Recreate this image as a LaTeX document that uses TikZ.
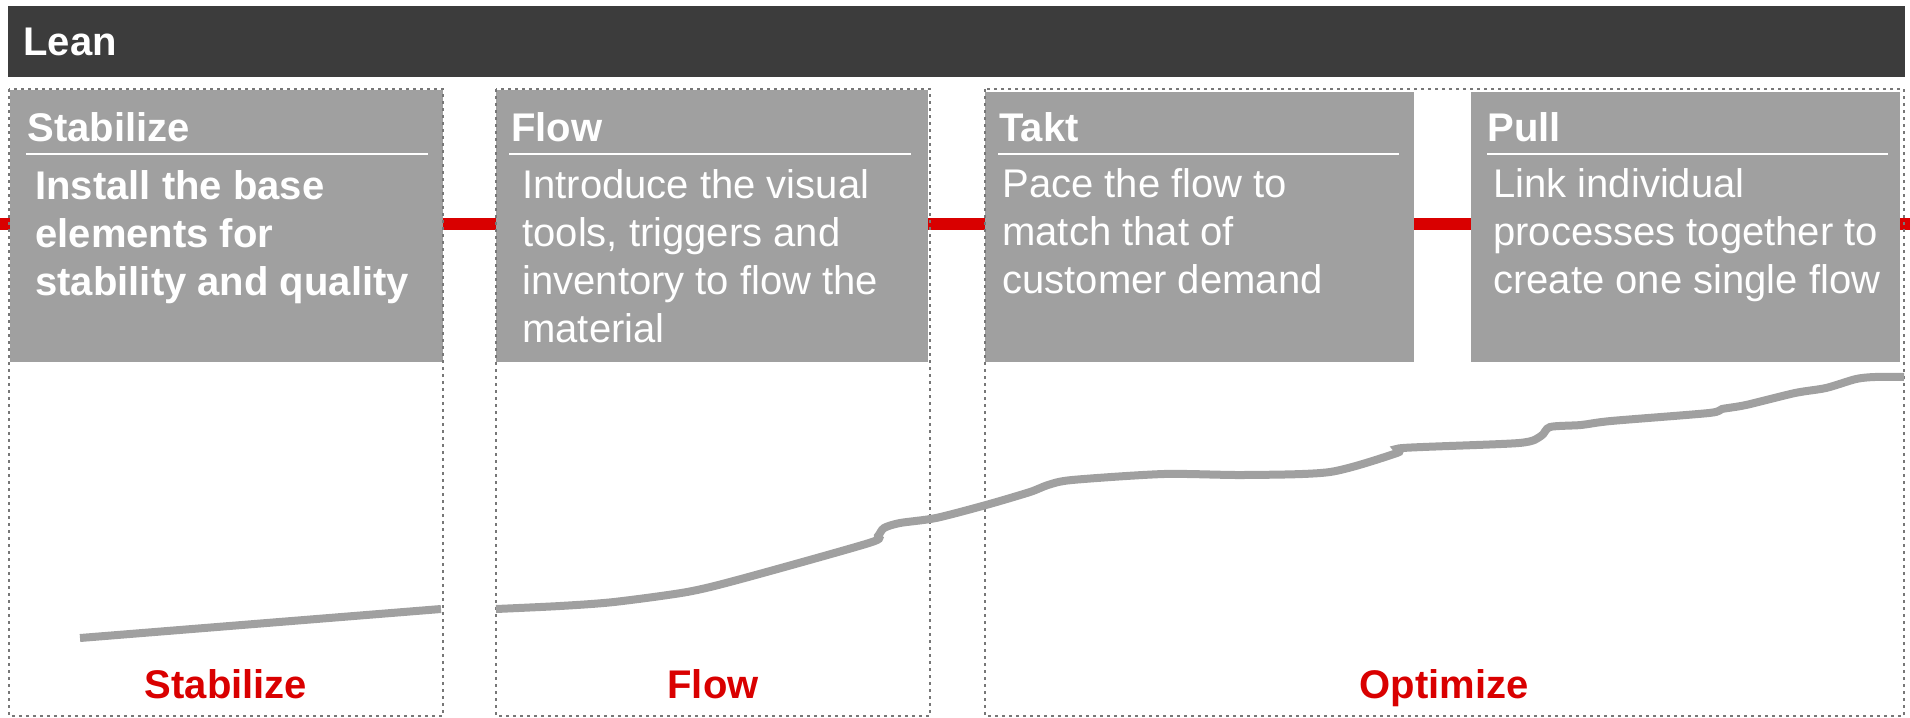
\documentclass[tikz,border=0pt]{standalone}
\usepackage{fontspec}
\setmainfont{Liberation Sans}
\definecolor{barcol}{HTML}{3C3C3C}
\definecolor{panelgray}{HTML}{A0A0A0}
\definecolor{framegray}{HTML}{777777}
\definecolor{leanred}{HTML}{D90000}
\tikzset{
  txt/.style={inner sep=0pt, font=\fontsize{20}{24}\selectfont},
  hdr/.style={txt, anchor=base west, text=white, font=\fontsize{20}{24}\selectfont\bfseries},
  bodyb/.style={txt, anchor=base west, text=white, font=\fontsize{20}{24}\selectfont\bfseries},
  bodyr/.style={txt, anchor=base west, text=white},
  phase/.style={txt, anchor=base, text=leanred, font=\fontsize{20}{24}\selectfont\bfseries},
  panel/.style={fill=panelgray},
  frame/.style={draw=framegray, line width=1.4pt, dash pattern=on 1.4pt off 2.1pt},
  rulew/.style={draw=white, line width=1pt},
  trend/.style={draw=panelgray, line width=4pt},
}
\begin{document}
\begin{tikzpicture}[x=0.5pt, y=-0.5pt]
\useasboundingbox (0,0) rectangle (1910,717);

% title bar
\fill[barcol] (8,6) rectangle (1905,77);
\node[hdr] (lean) at (23,56) {Lean};

% red timeline behind the panels
\fill[leanred] (0,218) rectangle (1910,230);

% grey step panels
\fill[panel] (10,90) rectangle (443,362);
\fill[panel] (496,90) rectangle (928,362);
\fill[panel] (985,92) rectangle (1414,362);
\fill[panel] (1471,92) rectangle (1900,362);

% dotted phase frames
\draw[frame] (9,89) rectangle (443,716);
\draw[frame] (496,89) rectangle (930,716);
\draw[frame] (985,89) rectangle (1904,716);

% headers and rules
\node[hdr] (hStab) at (27,141) {Stabilize};
\draw[rulew] (26,154) -- (428,154);
\node[hdr] (hFlow) at (511,141) {Flow};
\draw[rulew] (509,154) -- (911,154);
\node[hdr] (hTakt) at (999,141) {Takt};
\draw[rulew] (998,154) -- (1399,154);
\node[hdr] (hPull) at (1487,141) {Pull};
\draw[rulew] (1487,154) -- (1888,154);

% step descriptions
\node[bodyb] (s1) at (35,199) {Install the base};
\node[bodyb] (s2) at (35,247) {elements for};
\node[bodyb] (s3) at (35,295) {stability and quality};

\node[bodyr] (f1) at (522,198) {Introduce the visual};
\node[bodyr] (f2) at (522,246) {tools, triggers and};
\node[bodyr] (f3) at (522,294) {inventory to flow the};
\node[bodyr] (f4) at (522,342) {material};

\node[bodyr] (t1) at (1002,197) {Pace the flow to};
\node[bodyr] (t2) at (1002,245) {match that of};
\node[bodyr] (t3) at (1002,293) {customer demand};

\node[bodyr] (p1) at (1493,197) {Link individual};
\node[bodyr] (p2) at (1493,245) {processes together to};
\node[bodyr] (p3) at (1493,293) {create one single flow};

% improvement trend
\draw[trend] (80,638) -- (441,609);
\draw[trend] plot[smooth, tension=0.45] coordinates {
  (496,609) (560,606) (614,602) (687,592) (741,579) (869,543) (878,536)
  (884,528) (900,523) (936,518) (986,505) (1030,492) (1048,485) (1072,480)
  (1164,474) (1244,475) (1330,472) (1397,453) (1403,448) (1519,443)
  (1541,436) (1550,427) (1581,425) (1611,421) (1709,413) (1722,409)
  (1746,405) (1795,393) (1826,388) (1856,379) (1875,377) (1904,377)};

% phase names
\node[phase] (pStab) at (226,698) {Stabilize};
\node[phase] (pFlow) at (713,698) {Flow};
\node[phase] (pOpt) at (1444,698) {Optimize};
\end{tikzpicture}
\end{document}
